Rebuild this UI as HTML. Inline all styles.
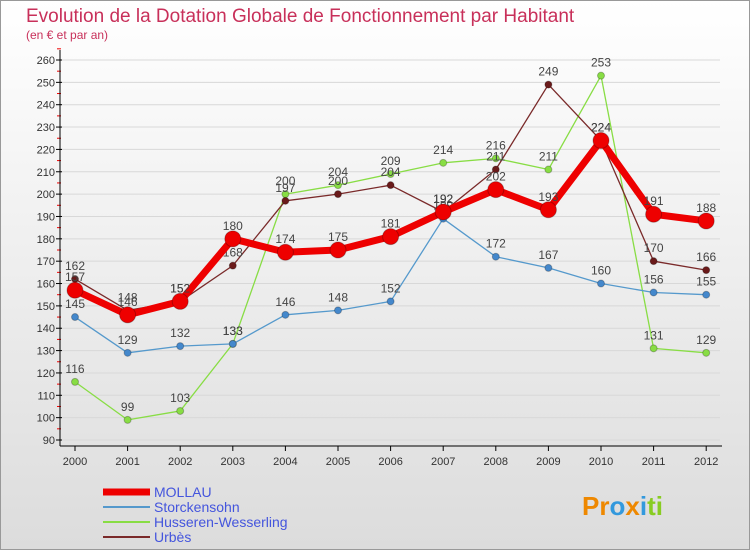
<!DOCTYPE html>
<html><head><meta charset="utf-8"><style>
body{margin:0;width:750px;height:550px;overflow:hidden;font-family:"Liberation Sans",sans-serif}
</style></head><body>
<svg id="c" width="750" height="550" xmlns="http://www.w3.org/2000/svg">
<defs><linearGradient id="bg" x1="0" y1="0" x2="0" y2="1"><stop offset="0" stop-color="#ffffff"/><stop offset="1" stop-color="#dcdcdc"/></linearGradient></defs>
<rect x="0.5" y="0.5" width="749" height="549" fill="url(#bg)" stroke="#999"/>
<text x="26" y="22" font-size="19" fill="#c8305a">Evolution de la Dotation Globale de Fonctionnement par Habitant</text>
<text x="26" y="39" font-size="12" fill="#c8305a">(en € et par an)</text>
<g id="axes"></g><g id="series"></g><g id="legend"></g>
</svg>
<script>
const years=["2000","2001","2002","2003","2004","2005","2006","2007","2008","2009","2010","2011","2012"];
const mollau=[157,146,152,180,174,175,181,192,202,193,224,191,188];
const storck=[145,129,132,133,146,148,152,189,172,167,160,156,155];
const husseren=[116,99,103,133,200,204,209,214,216,211,253,131,129];
const urbes=[162,148,152,168,197,200,204,192,211,249,224,170,166];
const yTicks=[90,100,110,120,130,140,150,160,170,180,190,200,210,220,230,240,250,260];
const NS="http://www.w3.org/2000/svg";
const X=i=>75+i*52.6, Y=v=>440-(v-90)*(380/170);
function mk(t,a,p){const e=document.createElementNS(NS,t);for(const k in a)e.setAttribute(k,a[k]);p.appendChild(e);return e;}
const ax=document.getElementById('axes');
yTicks.forEach(v=>{
 const g=mk('line',{x1:60,x2:720,y1:Y(v),y2:Y(v),stroke:'#d8d8d8'},ax);
 
 
 const tk=mk('line',{x1:56,x2:62,y1:Y(v),y2:Y(v),stroke:'#000'},ax);
 
 
 const t=mk('text',{x:55,y:Y(v)+4,'font-size':11,'text-anchor':'end',fill:'#333'},ax);t.textContent=v;
 
 
 const m=mk('line',{x1:57,x2:61,y1:Y(v+5),y2:Y(v+5),stroke:'#e00'},ax);
 
 
});
const ya=mk('line',{x1:60,x2:60,y1:50,y2:446,stroke:'#000'},ax);


const xa=mk('line',{x1:60,x2:722,y1:446,y2:446,stroke:'#000'},ax);


years.forEach((y,i)=>{
 const tk=mk('line',{x1:X(i),x2:X(i),y1:446,y2:451,stroke:'#000'},ax);
 
 
 const t=mk('text',{x:X(i),y:465,'font-size':11,'text-anchor':'middle',fill:'#333'},ax);t.textContent=y;
 
 
});
const sg=document.getElementById('series');
const defs=[
 {d:husseren,c:'#88dd44',w:1.3,r:3.5,fc:'#88dd44',n:'husseren'},
 {d:storck,c:'#5599cc',w:1.3,r:3.5,fc:'#4488cc',n:'storckensohn'},
 {d:urbes,c:'#7a2a2a',w:1.3,r:3.5,fc:'#6a1a1a',n:'urbes'},
 {d:mollau,c:'#ee0000',w:7,r:8,fc:'#ee0000',n:'mollau'}];
defs.forEach(s=>{
 const l=mk('polyline',{points:s.d.map((v,i)=>X(i)+','+Y(v)).join(' '),fill:'none',stroke:s.c,'stroke-width':s.w,'stroke-linejoin':'round'},sg);
 
 
 s.d.forEach((v,i)=>{
  const p=mk('circle',{cx:X(i),cy:Y(v),r:s.r,fill:s.fc,stroke:'rgba(0,0,0,0.25)'},sg);
  
  
  const t=mk('text',{x:X(i),y:Y(v)-9,'font-size':12,'text-anchor':'middle',fill:'#444'},sg);t.textContent=v;
  
  
 });
});
const lg=document.getElementById('legend');
[['MOLLAU','#ee0000',7],['Storckensohn','#5599cc',2],['Husseren-Wesserling','#88dd44',2],['Urbès','#7a2a2a',2]].forEach((e,i)=>{
 const y=492+i*15;
 const l=mk('line',{x1:103,x2:150,y1:y,y2:y,stroke:e[1],'stroke-width':e[2]},lg);
 
 
 const t=mk('text',{x:154,y:y+5,'font-size':14,fill:'#4455dd'},lg);t.textContent=e[0];
 
 
});
const pr=mk('text',{x:582,y:515,'font-size':26,'font-weight':'bold',fill:'#3399dd'},lg);
pr.innerHTML='<tspan fill="#ee8800">Pr</tspan><tspan fill="#3399dd">o</tspan><tspan fill="#ee8800">x</tspan><tspan fill="#3399dd">i</tspan><tspan fill="#88cc22">ti</tspan>';


</script>
</body></html>
